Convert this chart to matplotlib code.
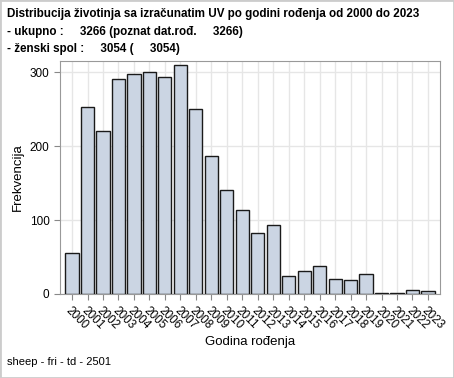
import numpy as np
import matplotlib.pyplot as plt
from matplotlib.patches import Rectangle
from matplotlib.transforms import ScaledTranslation

plt.rcParams['font.family'] = ['Liberation Sans', 'DejaVu Sans']

years = [str(y) for y in range(2000, 2024)]
counts = [55, 253, 221, 290, 297, 300, 293, 309, 250, 186, 140, 113,
          83, 93, 25, 31, 38, 20, 19, 27, 2, 2, 6, 4]
title_lines = ["Distribucija životinja sa izračunatim UV po godini rođenja od 2000 do 2023",
               "- ukupno :     3266 (poznat dat.rođ.     3266)",
               "- ženski spol :     3054 (     3054)"]
footnote = "sheep - fri - td - 2501"

W, H = 454, 378
fig = plt.figure(figsize=(W / 100, H / 100), dpi=100)
ax = fig.add_axes([60 / W, 1 - 294 / H, 380 / W, 233 / H])

x = np.arange(len(years))
ax.bar(x, counts, width=0.85, color='#cbd5e3', edgecolor='#1a1a1a', linewidth=1.0, zorder=3)
ax.set_xlim(-0.78, len(years) - 0.22)
ax.set_ylim(0, 315)
ax.set_yticks([0, 100, 200, 300])
ax.set_xticks(x)
ax.set_xticklabels(years, rotation=-45, ha='left', va='top', rotation_mode='anchor', fontsize=8.5)
shift = ScaledTranslation(-4 / 100, 0, fig.dpi_scale_trans)
for lab in ax.get_xticklabels():
    lab.set_transform(lab.get_transform() + shift)
ax.tick_params(axis='y', labelsize=8.5, color='#888888', length=4)
ax.tick_params(axis='x', color='#888888', length=4)
ax.grid(True, color='#e6e6e6', linewidth=1.0, zorder=0)
for s in ax.spines.values():
    s.set_color('#999999')
ax.set_ylabel("Frekvencija", fontsize=9.5, labelpad=4)
ax.set_xlabel("Godina rođenja", fontsize=9.5, labelpad=3)

for i, t in enumerate(title_lines):
    fig.text(7 / W, 1 - (14 + i * 17.5) / H, t, fontsize=8.4, fontweight='bold', va='center', ha='left')
fig.text(7 / W, 1 - 362 / H, footnote, fontsize=8, va='center', ha='left')

fig.patches.append(Rectangle((0, 0), 1, 1, transform=fig.transFigure, fill=False,
                             edgecolor='#cccccc', linewidth=2))
fig.savefig("out.png", dpi=100)
